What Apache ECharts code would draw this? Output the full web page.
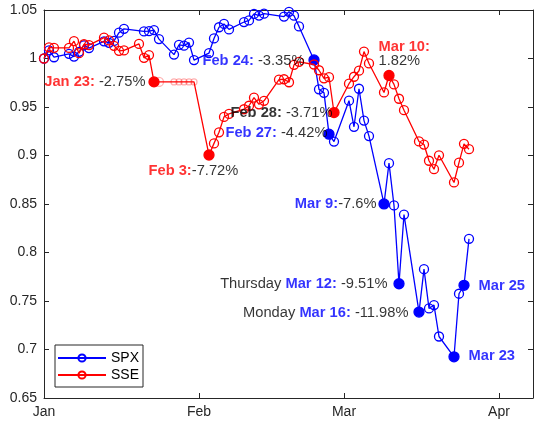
<!DOCTYPE html>
<html><head><meta charset="utf-8">
<script src="https://cdn.jsdelivr.net/npm/echarts@6/dist/echarts.min.js"></script>
<style>html,body{margin:0;padding:0;background:#fff}#c{width:534px;height:423px}</style>
</head><body><div id="c"></div>
<script>
// ---------------- data ----------------
const monthLabels = ['Jan', 'Feb', 'Mar', 'Apr'];
const monthStarts = ['2020-01-01', '2020-02-01', '2020-03-01', '2020-04-01'];
const yMin = 0.65, yMax = 1.05, yStep = 0.05;

const spxDates = ['2020-01-01','2020-01-02','2020-01-03','2020-01-06','2020-01-07','2020-01-08','2020-01-09','2020-01-10',
  '2020-01-13','2020-01-14','2020-01-15','2020-01-16','2020-01-17','2020-01-21','2020-01-22','2020-01-23','2020-01-24',
  '2020-01-27','2020-01-28','2020-01-29','2020-01-30','2020-01-31','2020-02-03','2020-02-04','2020-02-05','2020-02-06',
  '2020-02-07','2020-02-10','2020-02-11','2020-02-12','2020-02-13','2020-02-14','2020-02-18','2020-02-19','2020-02-20',
  '2020-02-21','2020-02-24','2020-02-25','2020-02-26','2020-02-27','2020-02-28','2020-03-02','2020-03-03','2020-03-04',
  '2020-03-05','2020-03-06','2020-03-09','2020-03-10','2020-03-11','2020-03-12','2020-03-13','2020-03-16','2020-03-17',
  '2020-03-18','2020-03-19','2020-03-20','2020-03-23','2020-03-24','2020-03-25','2020-03-26'];
const spxValues = [1.0000,1.0084,1.0013,1.0048,1.0020,1.0069,1.0136,1.0107,
  1.0177,1.0162,1.0181,1.0266,1.0306,1.0279,1.0282,1.0293,1.0200,
  1.0040,1.0141,1.0132,1.0164,0.9984,1.0056,1.0207,1.0322,1.0356,
  1.0300,1.0376,1.0393,1.0460,1.0443,1.0462,1.0432,1.0481,1.0441,
  1.0331,0.9985,0.9682,0.9646,0.9220,0.9144,0.9565,0.9296,0.9688,
  0.9360,0.9200,0.8501,0.8921,0.8485,0.7678,0.8391,0.7386,0.7828,
  0.7423,0.7458,0.7134,0.6925,0.7575,0.7662,0.8141];

const sseDates = ['2020-01-01','2020-01-02','2020-01-03','2020-01-06','2020-01-07','2020-01-08','2020-01-09','2020-01-10',
  '2020-01-13','2020-01-14','2020-01-15','2020-01-16','2020-01-17','2020-01-20','2020-01-21','2020-01-22','2020-01-23',
  '2020-02-03','2020-02-04','2020-02-05','2020-02-06','2020-02-07','2020-02-10','2020-02-11','2020-02-12','2020-02-13',
  '2020-02-14','2020-02-17','2020-02-18','2020-02-19','2020-02-20','2020-02-21','2020-02-24','2020-02-25','2020-02-26',
  '2020-02-27','2020-02-28','2020-03-02','2020-03-03','2020-03-04','2020-03-05','2020-03-06','2020-03-09','2020-03-10',
  '2020-03-11','2020-03-12','2020-03-13','2020-03-16','2020-03-17','2020-03-18','2020-03-19','2020-03-20','2020-03-23',
  '2020-03-24','2020-03-25','2020-03-26'];
const sseValues = [1.0000,1.0115,1.0110,1.0109,1.0179,1.0055,1.0147,1.0138,
  1.0215,1.0186,1.0131,1.0079,1.0083,1.0150,1.0007,1.0035,0.9759,
  0.9005,0.9125,0.9239,0.9398,0.9429,0.9477,0.9513,0.9596,0.9528,
  0.9564,0.9782,0.9786,0.9755,0.9935,0.9966,0.9938,0.9879,0.9796,
  0.9807,0.9443,0.9740,0.9812,0.9874,1.0071,0.9949,0.9650,0.9825,
  0.9733,0.9585,0.9467,0.9145,0.9113,0.8946,0.8859,0.9002,0.8722,
  0.8926,0.9120,0.9065];

// Chinese New Year closure, carried forward at the last close
const sseHolidayDates = ['2020-01-24','2020-01-27','2020-01-28','2020-01-29','2020-01-30','2020-01-31'];
const sseHolidayValues = [0.9759,0.9759,0.9759,0.9759,0.9759,0.9759];

const spxHighlights = ['2020-02-24','2020-02-27','2020-03-09','2020-03-12','2020-03-16','2020-03-23','2020-03-25'];
const sseHighlights = ['2020-01-23','2020-02-03','2020-02-28','2020-03-10'];

const annSeries = ['SSE','SSE','SPX','SPX','SSE','SSE','SPX','SPX','SPX','SPX','SPX'];
const annDates  = ['2020-01-23','2020-02-03','2020-02-24','2020-02-27','2020-02-28','2020-03-10','2020-03-09','2020-03-12','2020-03-16','2020-03-23','2020-03-25'];
const annPrefix = ['','','','','','','','Thursday ','Monday ','',''];
const annHead   = ['Jan 23:','Feb 3:','Feb 24:','Feb 27:','Feb 28:','Mar 10:','Mar 9:','Mar 12:','Mar 16:','Mar 23','Mar 25'];
const annTail   = [' -2.75%','-7.72%',' -3.35%',' -4.42%',' -3.71%','1.82%','-7.6%',' -9.51%',' -11.98%','',''];

// ---------------- layout / style ----------------
const BLUE = '#0000ff', RED = '#ff0000', INK = '#262626';
const FONT = "'Liberation Sans', Arial, Helvetica, sans-serif";
const ANN_FS = 14.7;
const annLayout = [
  {pos:[-8,1],  align:'right', va:'middle', head:RED},
  {pos:[-60,16],align:'left',  va:'middle', head:RED},
  {pos:[-9,1],  align:'right', va:'middle', head:BLUE},
  {pos:[-1,-1], align:'right', va:'middle', head:BLUE},
  {pos:[-1,1],  align:'right', va:'middle', head:'#000'},
  {pos:[-10,-7],align:'left',  va:'bottom', head:RED, twoLine:true},
  {pos:[-7,1],  align:'right', va:'middle', head:BLUE},
  {pos:[-11,1], align:'right', va:'middle', head:BLUE},
  {pos:[-10,1], align:'right', va:'middle', head:BLUE},
  {pos:[15,0],  align:'left',  va:'middle', head:BLUE},
  {pos:[15,1],  align:'left',  va:'middle', head:BLUE}
];

const T0 = Date.UTC(2020, 0, 1);
function day(s) { const p = s.split('-').map(Number); return (Date.UTC(p[0], p[1]-1, p[2]) - T0) / 86400000; }
const monthDays = monthStarts.map(day);

function lineData(dates, values, highlights, color) {
  return dates.map((d, i) => {
    const item = { value: [day(d), values[i]] };
    if (highlights.indexOf(d) >= 0) {
      item.symbolSize = 10;
      item.itemStyle = { color: color, borderColor: color };
      item.z = 5;
    }
    return item;
  });
}
const spxData = lineData(spxDates, spxValues, spxHighlights, BLUE);
let sseData = lineData(sseDates, sseValues, sseHighlights, RED);
sseHolidayDates.forEach((d, i) => {
  sseData.push({ value: [day(d), sseHolidayValues[i]], symbolSize: i === 0 ? 9 : 6,
    itemStyle: { color: 'rgba(0,0,0,0)', borderColor: 'rgba(255,0,0,0.3)' } });
});
sseData.sort((a, b) => a.value[0] - b.value[0]);

const lookup = { SPX: [spxDates, spxValues], SSE: [sseDates, sseValues] };
const annData = annDates.map((d, i) => {
  const src = lookup[annSeries[i]];
  const v = src[1][src[0].indexOf(d)];
  const L = annLayout[i];
  const lh = L.twoLine ? 14 : 15;
  let txt = '';
  if (annPrefix[i]) txt += '{p|' + annPrefix[i] + '}';
  txt += '{h|' + annHead[i] + '}';
  if (annTail[i]) txt += (L.twoLine ? '\n' : '') + '{t|' + annTail[i] + '}';
  return {
    value: [day(d), v],
    label: {
      show: true, position: L.pos, align: L.align, verticalAlign: L.va, formatter: txt,
      rich: {
        p: { fontFamily: FONT, fontSize: ANN_FS, color: '#000', lineHeight: lh },
        h: { fontFamily: FONT, fontSize: ANN_FS, fontWeight: 'bold', color: L.head, lineHeight: lh },
        t: { fontFamily: FONT, fontSize: ANN_FS, color: '#000', lineHeight: lh }
      }
    }
  };
});

const axisLine = { show: true, onZero: false, lineStyle: { color: INK, width: 1 } };
const xBase = {
  type: 'value', min: 0, max: 97.8, splitLine: { show: false }, axisLine: axisLine,
  axisTick: { show: true, inside: true, length: 5, customValues: monthDays, lineStyle: { color: INK } }
};
const yBase = {
  type: 'value', min: yMin, max: yMax, interval: yStep, splitLine: { show: false }, axisLine: axisLine,
  axisTick: { show: true, inside: true, length: 5, lineStyle: { color: INK } }
};

const chart = echarts.init(document.getElementById('c'), null, { renderer: 'canvas' });
chart.setOption({
  animation: false,
  backgroundColor: '#fff',
  textStyle: { fontFamily: FONT },
  grid: { left: 44, right: 1, top: 10, bottom: 25 },
  xAxis: [
    Object.assign({}, xBase, { position: 'bottom',
      axisLabel: { customValues: monthDays, formatter: v => monthLabels[monthDays.indexOf(v)] || '',
        fontSize: 14, color: INK, margin: 7, fontFamily: FONT } }),
    Object.assign({}, xBase, { position: 'top', axisLabel: { show: false } })
  ],
  yAxis: [
    Object.assign({}, yBase, { position: 'left',
      axisLabel: { fontSize: 14, color: INK, margin: 7, fontFamily: FONT,
        formatter: v => String(+(+v).toFixed(2)) } }),
    Object.assign({}, yBase, { position: 'right', axisLabel: { show: false } })
  ],
  legend: {
    data: ['SPX', 'SSE'], orient: 'vertical', left: 55, top: 345,
    itemWidth: 48, itemHeight: 9, itemGap: 3, padding: [6, 4, 5, 2],
    borderColor: INK, borderWidth: 1, backgroundColor: '#fff',
    textStyle: { fontSize: 14, color: '#000', fontFamily: FONT }
  },
  series: [
    { name: 'SPX', type: 'line', data: spxData, symbol: 'circle', symbolSize: 9, color: BLUE,
      lineStyle: { color: BLUE, width: 1.3 },
      itemStyle: { color: 'rgba(0,0,0,0)', borderColor: BLUE, borderWidth: 1.3 }, z: 2 },
    { name: 'SSE', type: 'line', data: sseData, symbol: 'circle', symbolSize: 9, color: RED,
      lineStyle: { color: RED, width: 1.3 },
      itemStyle: { color: 'rgba(0,0,0,0)', borderColor: RED, borderWidth: 1.3 }, z: 3 },
    { name: 'notes', type: 'scatter', data: annData, symbol: 'circle', symbolSize: 1,
      itemStyle: { color: 'rgba(0,0,0,0)' }, silent: true, z: 10 }
  ]
});
</script></body></html>
